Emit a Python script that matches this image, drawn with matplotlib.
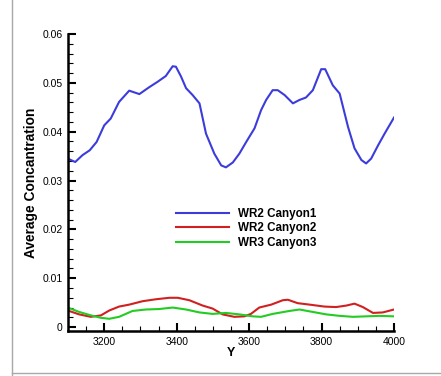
import matplotlib
matplotlib.use("Agg")
import matplotlib.pyplot as plt
from matplotlib.lines import Line2D
from matplotlib.ticker import MultipleLocator

plt.rcParams['font.family'] = ['Liberation Sans', 'DejaVu Sans']

x1 = [3099, 3120, 3140, 3160, 3179, 3200, 3218, 3241, 3269, 3297, 3324, 3347, 3370, 3389, 3398,
      3412, 3426, 3444, 3463, 3481, 3504, 3523, 3536, 3555, 3573, 3592, 3615, 3633, 3647, 3665,
      3679, 3698, 3721, 3739, 3757, 3776, 3799, 3810, 3831, 3850, 3873, 3891, 3910, 3923, 3937,
      3956, 3974, 4000]
y1 = [0.0345, 0.0338, 0.0352, 0.0362, 0.0379, 0.0413, 0.0427, 0.0461, 0.0484, 0.0477, 0.0491,
      0.0502, 0.0514, 0.0534, 0.0533, 0.0513, 0.0489, 0.0475, 0.0458, 0.0396, 0.0355, 0.0331,
      0.0327, 0.0337, 0.0355, 0.0379, 0.0407, 0.0444, 0.0465, 0.0485, 0.0485, 0.0475, 0.0458,
      0.0465, 0.0470, 0.0485, 0.0528, 0.0528, 0.0495, 0.0478, 0.0410, 0.0366, 0.0342, 0.0335,
      0.0345, 0.0372, 0.0396, 0.0429]

x2 = [3099, 3131, 3163, 3191, 3214, 3241, 3269, 3306, 3343, 3380, 3403, 3435, 3472, 3499, 3527,
      3559, 3587, 3605, 3628, 3661, 3693, 3707, 3734, 3767, 3808, 3840, 3868, 3891, 3914, 3942,
      3969, 4000]
y2 = [0.0034, 0.0026, 0.0021, 0.0024, 0.0034, 0.0042, 0.0046, 0.0053, 0.0057, 0.0060, 0.0060,
      0.0055, 0.0044, 0.0038, 0.0026, 0.0021, 0.0022, 0.0027, 0.0040, 0.0046, 0.0055, 0.0056,
      0.0049, 0.0046, 0.0042, 0.0041, 0.0044, 0.0048, 0.0041, 0.0029, 0.0030, 0.0036]

x3 = [3099, 3131, 3163, 3191, 3214, 3241, 3278, 3315, 3352, 3389, 3426, 3463, 3499, 3536, 3573,
      3610, 3633, 3665, 3711, 3739, 3776, 3813, 3850, 3887, 3923, 3960, 4000]
y3 = [0.0040, 0.0031, 0.0024, 0.0019, 0.0017, 0.0021, 0.0033, 0.0036, 0.0037, 0.0040, 0.0036,
      0.0030, 0.0027, 0.0029, 0.0026, 0.0022, 0.0021, 0.0027, 0.0033, 0.0036, 0.0031, 0.0026,
      0.0023, 0.0021, 0.0022, 0.0023, 0.0022]

labels = ['WR2 Canyon1', 'WR2 Canyon2', 'WR3 Canyon3']
colors = ['#3c3cdc', '#d02020', '#22cc22']

fig = plt.figure(figsize=(4.41, 3.76), dpi=100)
ax = fig.add_axes([68/441, 1 - 331/376, (394-68)/441, (331-34)/376])

for xs, ys, lab, c in zip([x1, x2, x3], [y1, y2, y3], labels, colors):
    ax.plot(xs, ys, color=c, lw=1.5, label=lab)

ax.set_xlim(3100, 4000)
ax.set_ylim(-0.0008, 0.06)
ax.set_xticks([3200, 3400, 3600, 3800, 4000])
ax.set_yticks([0, 0.01, 0.02, 0.03, 0.04, 0.05, 0.06])
ax.set_yticklabels(['0', '0.01', '0.02', '0.03', '0.04', '0.05', '0.06'])
ax.xaxis.set_minor_locator(MultipleLocator(50))
ax.yaxis.set_minor_locator(MultipleLocator(0.002))
ax.tick_params(which='major', direction='in', length=6, width=1.5, labelsize=7.5, pad=4)
ax.tick_params(which='minor', direction='in', length=3.5, width=0.8)
for s in ['top', 'right']:
    ax.spines[s].set_visible(False)
for s in ['left', 'bottom']:
    ax.spines[s].set_linewidth(1.8)

ax.set_xlabel('Y', fontsize=9, fontweight='bold', labelpad=0)
ax.set_ylabel('Average Concantration', fontsize=9.9, fontweight='bold', labelpad=3)

leg = ax.legend(loc='upper left', bbox_to_anchor=(0.3, 0.45), frameon=False,
                prop={'weight': 'bold', 'size': 8.4}, handlelength=4.5,
                handletextpad=0.75, labelspacing=0.22)

fig.add_artist(Line2D([12/441, 12/441], [0, 1], transform=fig.transFigure, color='#a8a8a8', lw=1))
fig.add_artist(Line2D([12/441, 1], [3/376, 3/376], transform=fig.transFigure, color='#a8a8a8', lw=1))

fig.savefig('out.png', dpi=100)
